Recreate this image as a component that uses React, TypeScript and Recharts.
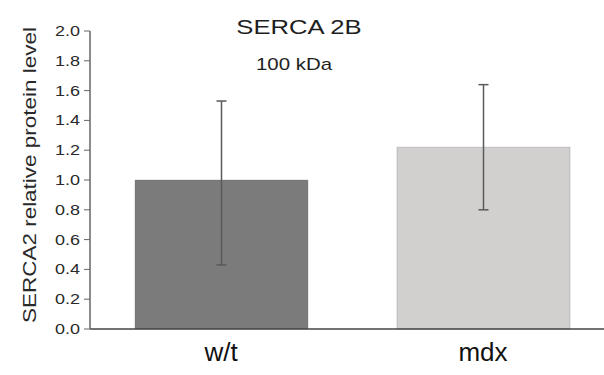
import React from "react"
import { Bar, BarChart, Cell, ErrorBar, XAxis, YAxis, Label } from "recharts"

// values
const groups = ["w/t", "mdx"]
const levels = [1.0, 1.22]
const errLow = [0.57, 0.42]
const errHigh = [0.53, 0.42]
const yTicks = [0, 0.2, 0.4, 0.6, 0.8, 1.0, 1.2, 1.4, 1.6, 1.8, 2.0]
const barColors = ["#7b7b7b", "#d2cfcf"]

const data = groups.map((g, i) => ({
  group: g,
  level: levels[i],
  err: [errLow[i], errHigh[i]],
}))

const font = "'Liberation Sans', Arial, sans-serif"

const YTick = ({ x, y, payload }: any) => (
  <text
    x={x - 2}
    y={y + 5}
    textAnchor="end"
    fontSize={14}
    fill="#2a2a2a"
    fontFamily={font}
    textLength={25}
    lengthAdjust="spacingAndGlyphs"
  >
    {Number(payload.value).toFixed(1)}
  </text>
)

const XTick = ({ x, y, payload }: any) => (
  <text x={x} y={y + 24} textAnchor="middle" fontSize={26} fill="#111" fontFamily={font}>
    {payload.value}
  </text>
)

const YLabel = () => (
  <text
    x={36}
    y={175}
    transform="rotate(-90 36 175)"
    textAnchor="middle"
    fontSize={18}
    fill="#2a2a2a"
    fontFamily={font}
    textLength={296}
    lengthAdjust="spacingAndGlyphs"
  >
    SERCA2 relative protein level
  </text>
)

export default function App() {
  return (
    <div style={{ position: "absolute", left: 0, top: 0, width: 604, height: 375, overflow: "hidden", background: "#fff" }}>
      <BarChart width={620} height={375} data={data} margin={{ top: 31, right: 6, bottom: 0, left: 0 }} barCategoryGap={44}>
        <XAxis
          dataKey="group"
          axisLine={{ stroke: "#444", strokeWidth: 1.5 }}
          tickLine={false}
          tick={<XTick />}
          height={46}
        />
        <YAxis
          domain={[0, 2]}
          ticks={yTicks}
          interval={0}
          width={90}
          axisLine={{ stroke: "#666", strokeWidth: 1.5 }}
          tickLine={{ stroke: "#666" }}
          tickSize={6}
          tick={<YTick />}
        >
          <Label content={<YLabel />} />
        </YAxis>
        <Bar dataKey="level" barSize={173} isAnimationActive={false} stroke="#6a6a6a" strokeOpacity={0.3}>
          {data.map((d, i) => (
            <Cell key={d.group} fill={barColors[i]} />
          ))}
          <ErrorBar dataKey="err" width={5} stroke="#5a5a5a" strokeWidth={1.5} />
        </Bar>
      </BarChart>
      <div
        style={{
          position: "absolute",
          left: 199,
          top: 15,
          width: 200,
          textAlign: "center",
          fontFamily: font,
          fontSize: 21,
          color: "#1e1e1e",
          transform: "scaleX(1.22)",
        }}
      >
        SERCA 2B
      </div>
      <div
        style={{
          position: "absolute",
          left: 194,
          top: 55,
          width: 200,
          textAlign: "center",
          fontFamily: font,
          fontSize: 17,
          color: "#1e1e1e",
          transform: "scaleX(1.2)",
        }}
      >
        100 kDa
      </div>
    </div>
  )
}
